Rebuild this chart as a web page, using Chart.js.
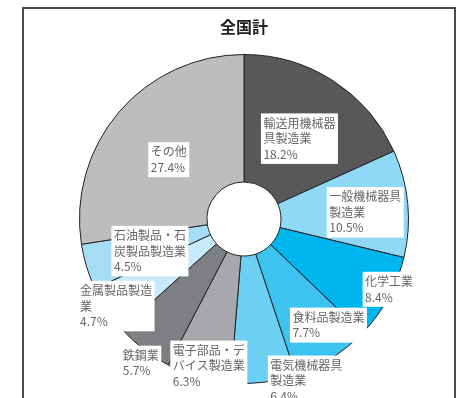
<!DOCTYPE html>
<html>
<head>
<meta charset="utf-8">
<script src="https://cdn.jsdelivr.net/npm/chart.js@4/dist/chart.umd.min.js"></script>
<style>
  html, body { margin: 0; padding: 0; background: #fff; overflow: hidden; }
  #frame { position: absolute; left: 22px; top: 7px; width: 434px; height: 420px;
           border: 2px solid #4a4a4a; box-sizing: border-box; }
  #wrap { position: absolute; left: 25px; top: 10px; width: 428px; height: 388px; }
</style>
</head>
<body>
<div id="frame"></div>
<div id="wrap"><canvas id="c"></canvas></div>
<script>
// Industry shares of the national total (%), clockwise from 12 o'clock
const categories = [
  '輸送用機械器具製造業',
  '一般機械器具製造業',
  '化学工業',
  '食料品製造業',
  '電気機械器具製造業',
  '電子部品・デバイス製造業',
  '鉄鋼業',
  '金属製品製造業',
  '石油製品・石炭製品製造業',
  'その他'
];
const shares = [18.2, 10.5, 8.4, 7.7, 6.4, 6.3, 5.7, 4.7, 4.5, 27.4];
const sliceColors = [
  '#58585a', '#8fd9f6', '#00b6ee', '#3cc3f0', '#6ccff4',
  '#a7a8ab', '#7e7f82', '#c6eaf9', '#a6ddf6', '#bcbdbf'
];
const chartTitle = '全国計';

// Label box top-left corners, in outer-radius units from the pie centre
const labelSpots = [
  [0.103, -0.642], [0.503, -0.194], [0.721, 0.321], [0.279, 0.539], [0.145, 0.830],
  [-0.448, 0.739], [-0.752, 0.770], [-1.012, 0.376], [-0.806, 0.042], [-0.582, -0.467]
];

function wrapText(str, n) {
  const chars = Array.from(str);
  const out = [];
  for (let i = 0; i < chars.length; i += n) out.push(chars.slice(i, i + n).join(''));
  return out;
}

const sliceLabels = {
  id: 'sliceLabels',
  afterDatasetsDraw(chart) {
    const ctx = chart.ctx;
    const meta = chart.getDatasetMeta(0);
    const lineH = 15.5;
    ctx.save();
    ctx.font = '12px "Noto Sans CJK JP", sans-serif';
    ctx.textBaseline = 'middle';
    ctx.textAlign = 'left';
    meta.data.forEach((arc, i) => {
      const { x, y, outerRadius } = arc.getProps(['x', 'y', 'outerRadius'], true);
      const lines = wrapText(categories[i], 6).concat([shares[i].toFixed(1) + '%']);
      const w = Math.max(...lines.map(l => ctx.measureText(l).width)) + 5;
      const h = lines.length * lineH + 4;
      const bx = x + labelSpots[i][0] * outerRadius;
      const by = y + labelSpots[i][1] * outerRadius;
      ctx.fillStyle = '#ffffff';
      ctx.fillRect(bx, by, w, h);
      ctx.fillStyle = '#666666';
      lines.forEach((l, k) => ctx.fillText(l, bx + 2.5, by + 2 + lineH / 2 + k * lineH));
    });
    ctx.restore();
  }
};

new Chart(document.getElementById('c'), {
  type: 'doughnut',
  data: {
    labels: categories,
    datasets: [{
      data: shares,
      backgroundColor: sliceColors,
      borderColor: '#222222',
      borderWidth: 1
    }]
  },
  options: {
    responsive: true,
    maintainAspectRatio: false,
    animation: false,
    cutout: '22.5%',
    layout: { padding: { top: 0, left: 10, right: 0, bottom: 14 } },
    plugins: {
      legend: { display: false },
      tooltip: { enabled: false },
      title: {
        display: true,
        text: chartTitle,
        color: '#222222',
        font: { family: '"Noto Sans CJK JP", sans-serif', size: 16, weight: 'bold', lineHeight: 1.2 },
        padding: { top: 7.5, bottom: 17.3 }
      }
    }
  },
  plugins: [sliceLabels]
});
</script>
</body>
</html>
